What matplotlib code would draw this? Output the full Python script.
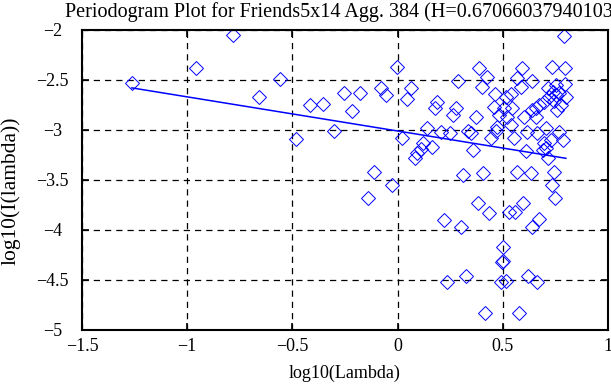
"""Periodogram plot (log-log) with fitted line for Friends5x14 Agg. 384."""

import matplotlib
matplotlib.use("Agg")
import matplotlib.pyplot as plt
import numpy as np


# log10 of frequency
LOG_LAMBDA = [
    -1.263, -0.959, -0.784, -0.657, -0.557, -0.481, -0.414, -0.354, -0.303, -0.255,
    -0.216, -0.180, -0.141, -0.113, -0.081, -0.054, -0.025, -0.001, 0.022, 0.046,
    0.065, 0.081, 0.094, 0.110, 0.122, 0.138, 0.165, 0.176, 0.189, 0.205,
    0.221, 0.237, 0.248, 0.263, 0.276, 0.289, 0.300, 0.311, 0.327, 0.337,
    0.348, 0.359, 0.371, 0.382, 0.387, 0.399, 0.406, 0.416, 0.427, 0.435,
    0.443, 0.459, 0.462, 0.470, 0.475, 0.482, 0.490, 0.495, 0.501, 0.501,
    0.506, 0.514, 0.514, 0.522, 0.529, 0.538, 0.538, 0.546, 0.554, 0.559,
    0.570, 0.570, 0.575, 0.586, 0.590, 0.597, 0.602, 0.610, 0.613, 0.622,
    0.633, 0.638, 0.641, 0.641, 0.657, 0.657, 0.665, 0.665, 0.673, 0.673,
    0.689, 0.697, 0.697, 0.705, 0.705, 0.713, 0.713, 0.721, 0.729, 0.732,
    0.733, 0.737, 0.745, 0.745, 0.749, 0.752, 0.752, 0.760, 0.768, 0.768,
    0.776, 0.784, 0.792, 0.797, 0.797, 0.800,
]

# log10 of periodogram value
LOG_I = [
    -2.527, -2.383, -2.050, -2.667, -2.490, -3.093, -2.747, -2.740, -3.010, -2.630,
    -2.810, -2.633, -3.683, -3.417, -2.577, -2.650, -3.550, -2.367, -3.083, -2.690,
    -2.583, -3.277, -3.233, -3.190, -3.133, -2.977, -3.167, -2.777, -2.717, -3.017,
    -3.900, -4.517, -3.033, -2.850, -2.777, -2.507, -3.967, -3.450, -4.457, -3.010,
    -3.033, -3.200, -2.873, -3.727, -2.383, -2.567, -3.433, -4.833, -2.473, -3.827,
    -3.083, -2.767, -2.643, -3.010, -2.967, -2.850, -4.517, -4.323, -4.310, -4.167,
    -2.783, -4.510, -2.667, -2.867, -3.817, -2.640, -2.950, -2.783, -3.083, -3.823,
    -2.483, -3.417, -4.833, -2.573, -2.383, -3.727, -2.867, -3.210, -3.017, -4.460,
    -3.433, -3.967, -2.510, -2.800, -2.783, -2.867, -3.033, -4.517, -2.750, -3.893,
    -3.200, -2.717, -3.133, -2.983, -3.183, -2.583, -3.283, -2.667, -3.100, -2.367,
    -3.550, -2.617, -2.710, -3.417, -3.683, -2.550, -2.650, -2.800, -2.633, -3.017,
    -2.750, -3.100, -2.057, -2.383, -2.543, -2.667,
]

HURST = 0.67066037940103
INTERCEPT = -3.01

X_TICKS = [-1.5, -1, -0.5, 0, 0.5, 1]
Y_TICKS = [-5, -4.5, -4, -3.5, -3, -2.5, -2]


def fmt(v: float) -> str:
    s = f"{v:g}"
    return s.replace("-", "\u2212")


def main() -> None:
    plt.rcParams["font.family"] = ["Liberation Serif", "DejaVu Serif"]
    plt.rcParams["font.size"] = 13

    fig = plt.figure(figsize=(6.11, 3.85), dpi=100)
    ax = fig.add_axes([0.1342, 0.1429, 0.8608, 0.7792])

    x = np.array(LOG_LAMBDA)
    y = np.array(LOG_I)
    ax.plot(x, y, linestyle="none", marker="D", markersize=7,
            markerfacecolor="none", markeredgecolor="#0000ff",
            markeredgewidth=0.7)

    slope = 1 - 2 * HURST
    fit_x = np.array([x.min(), x.max()])
    ax.plot(fit_x, INTERCEPT + slope * fit_x, color="#0000ff", linewidth=1.1)

    ax.set_xlim(-1.5, 1)
    ax.set_ylim(-5, -2)
    ax.set_xticks(X_TICKS)
    ax.set_yticks(Y_TICKS)
    ax.set_xticklabels([fmt(v) for v in X_TICKS])
    ax.set_yticklabels([fmt(v) for v in Y_TICKS], ha="center")
    ax.tick_params(direction="in", length=5, width=1.2, top=True, right=True)
    ax.tick_params(axis="x", pad=6)
    ax.tick_params(axis="y", pad=21)
    for spine in ax.spines.values():
        spine.set_linewidth(1.5)
    ax.grid(True, color="black", linestyle=(0, (5, 4)), linewidth=0.9)

    ax.set_xlabel("log10(Lambda)")
    ax.xaxis.set_label_coords(0.5, -0.115)
    ax.set_ylabel("log10(I(lambda))", fontsize=15.5)
    ax.yaxis.set_label_coords(-0.116, 0.465)

    # the original title runs past the right edge of the picture
    fig.text(65 / 611, 1 - 17 / 385,
             f"Periodogram Plot for Friends5x14 Agg. 384 (H={HURST:.14g})",
             fontsize=14.5, ha="left", va="baseline")

    fig.savefig("out.png", dpi=100)


if __name__ == "__main__":
    main()
